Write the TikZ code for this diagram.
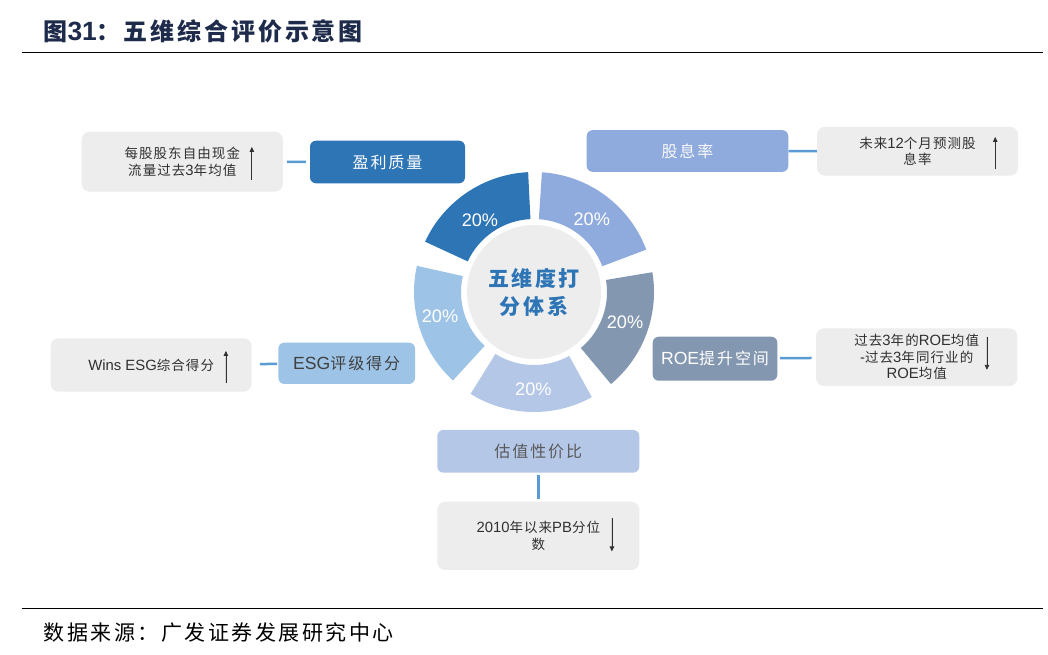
\documentclass[tikz,border=0pt]{standalone}
\usepackage{fontspec}
\setmainfont{Noto Sans CJK SC}[LetterSpace=12]
\newfontfamily\ar{Liberation Sans}[Scale=1.1]
\newfontfamily\notefont{Noto Sans CJK SC}[LetterSpace=8]
\usetikzlibrary{arrows.meta,calc}

\definecolor{ylblue}{HTML}{2E75B6}
\definecolor{gxblue}{HTML}{8FAADC}
\definecolor{roegray}{HTML}{8497B0}
\definecolor{gzblue}{HTML}{B4C7E7}
\definecolor{esgblue}{HTML}{9DC3E6}
\definecolor{notegray}{HTML}{EDEDED}
\definecolor{linkblue}{HTML}{5B9BD5}
\definecolor{titlenavy}{HTML}{1E2B4A}
\definecolor{txtgray}{HTML}{303030}

\begin{document}
\begin{tikzpicture}[x=1pt, y=-1pt, >={Triangle[width=4.5pt,length=5pt]},
    dim/.style={rounded corners=6pt, inner sep=0pt, font=\fontsize{16}{18}\selectfont},
    note/.style={fill=notegray, rounded corners=8pt, inner sep=0pt, align=center,
        text=txtgray, font=\fontsize{13.5}{16.5}\notefont},
    link/.style={draw=linkblue, line width=2.5pt},
    trend/.style={->, line width=0.8pt, draw=txtgray, fill=txtgray},
    pct/.style={text=white, font=\fontsize{16.5}{18}\ar}]

    \useasboundingbox (0,0) rectangle (1048,654);

    % title and rules
    \node (title) [anchor=west, text=titlenavy, font=\fontsize{24}{28}\selectfont\bfseries]
        at (40,31.7) {图{\ar 31}：五维综合评价示意图};
    \draw[line width=1pt] (21.7,52.3) -- (1043,52.3);
    \draw[line width=1pt] (21.7,608.3) -- (1043,608.3);
    \node (source) [anchor=west, text=black, font=\fontsize{21}{24}\selectfont]
        at (40,633) {数据来源：广发证券发展研究中心};

    % ring
    \begin{scope}[shift={(534,292)}]
        \foreach \from/\to/\col/\la/\lr [count=\i]
            in {92.8/155.2/ylblue/126.9/90, 20.7/86.2/gxblue/51.6/93,
                -50.1/9.5/roegray/-18.6/96, -121.9/-61.2/gzblue/-90.4/97,
                167.4/227.5/esgblue/194.3/97} {
            \fill[\col] (\from:120pt) arc[start angle=\from, end angle=\to, radius=120pt]
                -- (\to:73pt) arc[start angle=\to, end angle=\from, radius=73pt] -- cycle;
            \node (pct\i) [pct] at (\la:\lr pt) {20\%};
        }
    \end{scope}
    \node (core) [circle, fill=notegray, minimum size=134pt, inner sep=0pt, align=center,
        text=ylblue, font=\fontsize{21}{28}\selectfont\bfseries] at (534,292) {五维度打\\分体系};

    % dimensions
    \node (yl) [dim, fill=ylblue, text=white, minimum width=155pt, minimum height=42.6pt]
        at (387.5,162) {盈利质量};
    \node (gx) [dim, fill=gxblue, text=white!95!gray, minimum width=201.6pt, minimum height=41.7pt]
        at (687.5,151) {股息率};
    \node (roe) [dim, fill=roegray, text=white, minimum width=124.6pt, minimum height=44pt]
        at (715,358.7) {{\ar ROE}提升空间};
    \node (esg) [dim, fill=esgblue, text=black!75, minimum width=136.7pt, minimum height=41.3pt]
        at (346.7,363.3) {{\ar ESG}评级得分};
    \node (gz) [dim, fill=gzblue, text=black!65, minimum width=202pt, minimum height=42.7pt]
        at (538.3,451.3) {估值性价比};

    % indicators
    \node (ylnote) [note, minimum width=201.3pt, minimum height=60pt]
        at (182.3,161.7) {每股股东自由现金\\流量过去{\ar 3}年均值};
    \node (gxnote) [note, minimum width=201pt, minimum height=49pt]
        at (917.5,151.2) {未来{\ar 12}个月预测股\\息率};
    \node (roenote) [note, minimum width=201.3pt, minimum height=57.7pt]
        at (916.7,357.2) {过去{\ar 3}年的{\ar ROE}均值\\{\ar -}过去{\ar 3}年同行业的\\{\ar ROE}均值};
    \node (esgnote) [note, minimum width=201pt, minimum height=53.4pt]
        at (151.2,365) {{\ar Wins ESG}综合得分};
    \node (gznote) [note, minimum width=202pt, minimum height=68.3pt]
        at (538.3,535.8) {{\ar 2010}年以来{\ar PB}分位\\数};

    % links
    \draw[link, shorten <=4pt, shorten >=4pt] (ylnote) -- (yl);
    \draw[link] (gx) -- (gxnote);
    \draw[link, shorten <=2.7pt, shorten >=4.3pt] (roe) -- (roenote);
    \draw[link, shorten <=8pt, shorten >=1pt] (esgnote) -- (esg);
    \draw[link, shorten <=2.3pt, shorten >=2.3pt] (gz) -- (gznote);

    % trends
    \draw[trend] ($(ylnote.south east)+(-31.3,-12.4)$) -- ++(0,-32.6);
    \draw[trend] ($(gxnote.south east)+(-23,-6.7)$) -- ++(0,-32.3);
    \draw[trend] ($(roenote.north east)+(-30.6,8.4)$) -- ++(0,33.3);
    \draw[trend] ($(esgnote.south east)+(-26,-9)$) -- ++(0,-32);
    \draw[trend] ($(gznote.north east)+(-27.6,16.3)$) -- ++(0,33.7);
\end{tikzpicture}
\end{document}
